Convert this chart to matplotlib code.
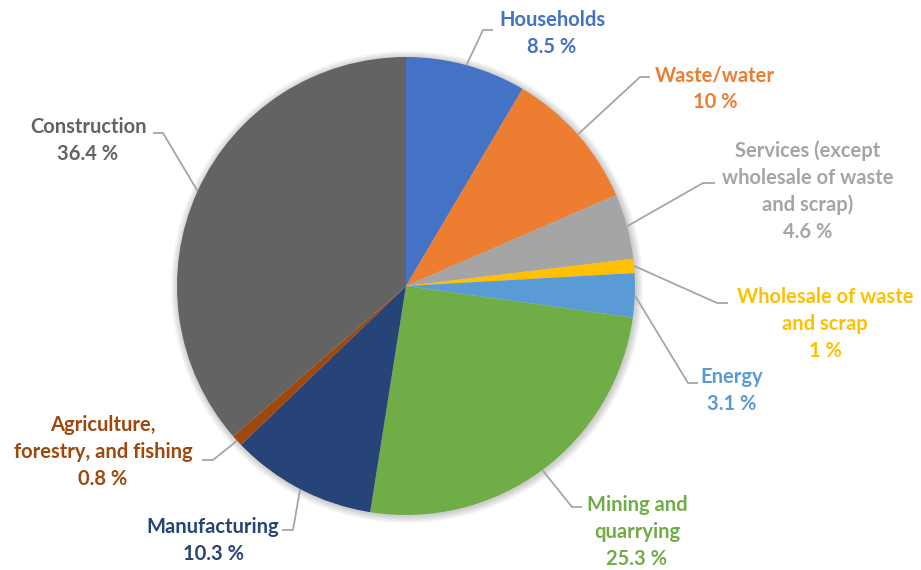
import matplotlib
matplotlib.use("Agg")
import matplotlib.pyplot as plt
import numpy as np

categories = ["Households", "Waste/water", "Services (except\nwholesale of waste\nand scrap)",
              "Wholesale of waste\nand scrap", "Energy", "Mining and\nquarrying",
              "Manufacturing", "Agriculture,\nforestry, and fishing", "Construction"]
values = [8.5, 10, 4.6, 1, 3.1, 25.3, 10.3, 0.8, 36.4]
value_labels = ["8.5 %", "10 %", "4.6 %", "1 %", "3.1 %", "25.3 %", "10.3 %", "0.8 %", "36.4 %"]
colors = ["#4472C4", "#ED7D31", "#A5A5A5", "#FFC000", "#5B9BD5", "#70AD47",
          "#264478", "#9E480E", "#636363"]

# layout (pixel coordinates, y downward)
W, H = 921, 570
cx, cy, R = 406, 286, 229
# label text centre x, first line y
label_pos = [(552, 20), (715, 75), (808, 151), (825, 297), (732, 377),
             (637, 505), (213, 527), (103, 425), (88, 127)]
# elbow (end of diagonal) and end of horizontal stub
elbows = [((483, 30), (493, 30)), ((640, 77), (650, 77)), ((703, 183), (715, 183)),
          ((717, 303), (728, 303)), ((688, 383), (698, 383)), ((572, 507), (582, 507)),
          ((293, 530), (282, 530)), ((213, 460), (202, 460)), ((163, 133), (153, 133))]
line_step = 27

fig = plt.figure(figsize=(W / 100, H / 100), dpi=100)
ax = fig.add_axes([0, 0, 1, 1])
ax.set_xlim(0, W)
ax.set_ylim(0, H)
ax.set_aspect("equal")
ax.axis("off")

def fy(y):
    return H - y

# soft shadow
for k in range(8, 0, -1):
    c = plt.Circle((cx + 1, fy(cy) - 1), R + k * 0.9, color="black", alpha=0.025, lw=0, zorder=0)
    ax.add_patch(c)

wedges, _ = ax.pie(values, colors=colors, startangle=90, counterclock=False,
                   center=(cx, fy(cy)), radius=R, frame=True,
                   wedgeprops=dict(linewidth=0))
ax.set_xlim(0, W)
ax.set_ylim(0, H)
ax.axis("off")

font = "Lato"
total = sum(values)
cum = 0
for i, v in enumerate(values):
    mid = 90 - (cum + v / 2) / total * 360
    cum += v
    ex = cx + R * np.cos(np.radians(mid))
    ey = cy - R * np.sin(np.radians(mid))
    (e1x, e1y), (e2x, e2y) = elbows[i]
    ax.plot([ex, e1x, e2x], [fy(ey), fy(e1y), fy(e2y)], color="#A6A6A6", lw=1.3,
            zorder=3, solid_capstyle="butt")
    lines = categories[i].split("\n") + [value_labels[i]]
    tx, ty = label_pos[i]
    for j, t in enumerate(lines):
        ax.text(tx, fy(ty + j * line_step), t, ha="center", va="center",
                fontsize=14.5, fontweight="bold", family=font, color=colors[i])

fig.savefig("out.png", dpi=100)
